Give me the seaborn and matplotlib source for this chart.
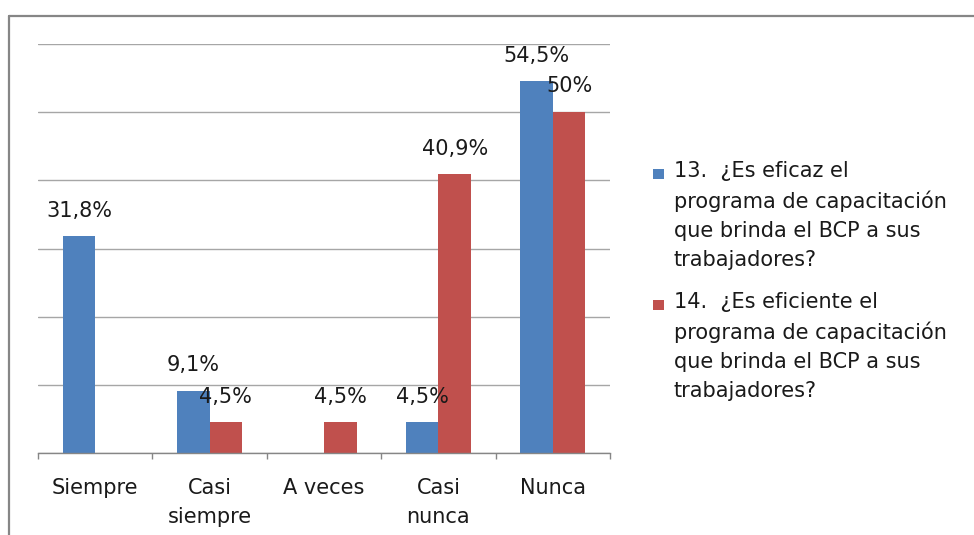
import matplotlib
matplotlib.use("Agg")
import matplotlib.pyplot as plt
import seaborn as sns
import pandas as pd
from matplotlib.lines import Line2D
from matplotlib.patches import Rectangle
from matplotlib.legend_handler import HandlerPatch

categories = ["Siempre", "Casi\nsiempre", "A veces", "Casi\nnunca", "Nunca"]
series_names = [
    "13.  ¿Es eficaz el\nprograma de capacitación\nque brinda el BCP a sus\ntrabajadores?",
    "14.  ¿Es eficiente el\nprograma de capacitación\nque brinda el BCP a sus\ntrabajadores?",
]
eficaz = [31.8, 9.1, 0.0, 4.5, 54.5]
eficiente = [0.0, 4.5, 4.5, 40.9, 50.0]
colors = ["#4F81BD", "#C0504D"]

rows = []
for c, a, b in zip(categories, eficaz, eficiente):
    rows.append({"cat": c, "serie": series_names[0], "val": a})
    rows.append({"cat": c, "serie": series_names[1], "val": b})
df = pd.DataFrame(rows)

sns.set_theme(style="white")
FONT = ["DejaVu Sans"]
plt.rcParams["font.family"] = FONT
FS = 15

fig = plt.figure(figsize=(9.74, 5.35), dpi=100)
ax = fig.add_axes([38 / 974, 1 - 453 / 535, (610 - 38) / 974, (453 - 44) / 535])

sns.barplot(data=df, x="cat", y="val", hue="serie", palette=colors,
            width=0.57, saturation=1, ax=ax, order=categories,
            hue_order=series_names, legend=True, linewidth=0)

ax.set_ylim(0, 60)
ax.set_xlim(-0.5, 4.5)
ax.set_yticks(range(0, 61, 10))
ax.yaxis.grid(True, color="#A6A6A6", linewidth=1.0)
ax.set_axisbelow(True)
ax.tick_params(axis="y", left=False, labelleft=False)
for s in ["top", "right", "left"]:
    ax.spines[s].set_visible(False)
ax.spines["bottom"].set_color("#868686")
ax.spines["bottom"].set_linewidth(1.0)
ax.set_xlabel("")
ax.set_ylabel("")

# category boundary ticks
ax.set_xticks([i - 0.5 for i in range(len(categories) + 1)], minor=True)
ax.tick_params(axis="x", which="minor", bottom=True, length=4.5, width=1, color="#868686", direction="out")
ax.tick_params(axis="x", which="major", bottom=False, pad=12, labelsize=FS, labelcolor="#1a1a1a")
ax.set_xticks(range(len(categories)))
ax.set_xticklabels(categories, linespacing=1.58)

# data labels
def fmt(v):
    s = f"{v:.1f}".replace(".", ",")
    if s.endswith(",0"):
        s = s[:-2]
    return s + "%"

for cont in ax.containers:
    for bar in cont:
        h = bar.get_height()
        if h <= 0:
            continue
        ax.annotate(fmt(h), (bar.get_x() + bar.get_width() / 2, h),
                    xytext=(0, 18.5), textcoords="offset points",
                    ha="center", va="center", fontsize=FS, color="#1a1a1a")

# legend
handles, labels = ax.get_legend_handles_labels()
if ax.get_legend() is not None:
    ax.get_legend().remove()

LINE_PT = 30 * 0.72
SQ = 7.6

def make_patch(legend, orig_handle, xdescent, ydescent, width, height, fontsize):
    yc = -ydescent + height / 2 + 1.5 * LINE_PT - 2.0
    return Rectangle((-xdescent, yc - SQ / 2), SQ, SQ)

hm = {h: HandlerPatch(patch_func=make_patch) for h in handles}
leg = fig.legend(handles, labels, handler_map=hm, loc="upper left",
                 bbox_to_anchor=(653 / 974, 1 - 161 / 535), frameon=False,
                 fontsize=FS, handlelength=0.53, handleheight=0.5,
                 handletextpad=0.47, labelspacing=1.05, borderpad=0, borderaxespad=0)
for t in leg.get_texts():
    t.set_linespacing(1.56)
    t.set_color("#1a1a1a")

# outer border (top and left visible)
fig.add_artist(Line2D([8.5 / 974, 1.0], [1 - 16 / 535, 1 - 16 / 535], transform=fig.transFigure,
                      color="#868686", linewidth=1.6))
fig.add_artist(Line2D([8.5 / 974, 8.5 / 974], [0, 1 - 16 / 535], transform=fig.transFigure,
                      color="#868686", linewidth=1.6))

fig.savefig("out.png", dpi=100, facecolor="white")
